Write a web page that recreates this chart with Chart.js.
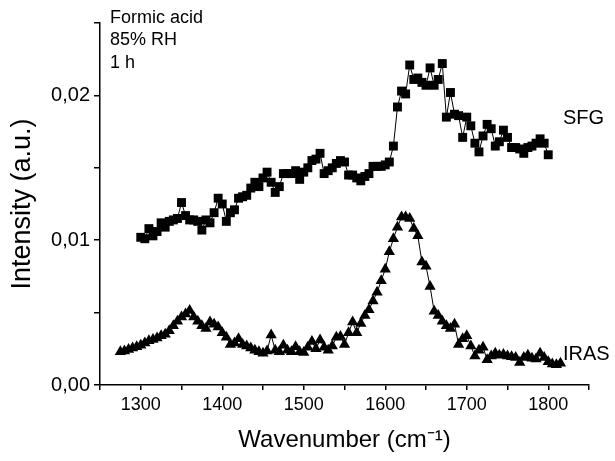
<!DOCTYPE html>
<html>
<head>
<meta charset="utf-8">
<script src="https://cdn.jsdelivr.net/npm/chart.js@4/dist/chart.umd.min.js"></script>
<style>
  body { margin: 0; background: #fff; }
  #wrap { width: 615px; height: 461px; }
</style>
</head>
<body>
<div id="wrap"><canvas id="specChart" width="615" height="461"></canvas></div>
<script>
// SFG spectrum (squares), intensity in units of 0.001
const sfgWavenumber = [1300,1305,1310,1315,1320,1325,1330,1335,1340,1345,1350,1355,1360,1365,1370,1375,1380,1385,1390,1395,
  1400,1405,1410,1415,1420,1425,1430,1435,1440,1445,1450,1455,1460,1465,1470,1475,1480,1485,1490,1495,
  1500,1505,1510,1515,1520,1525,1530,1535,1540,1545,1550,1555,1560,1565,1570,1575,1580,1585,1590,1595,
  1600,1605,1610,1615,1620,1625,1630,1635,1640,1645,1650,1655,1660,1665,1670,1675,1680,1685,1690,1695,
  1700,1705,1710,1715,1720,1725,1730,1735,1740,1745,1750,1755,1760,1765,1770,1775,1780,1785,1790,1795,1800];
const sfgIntensity = [10.2,10.1,10.8,10.3,10.6,11.2,10.9,11.3,11.4,11.5,12.6,11.7,11.4,11.4,11.3,10.7,11.4,11.2,11.9,12.9,
  12.5,11.3,11.9,12.1,12.9,13.0,13.1,13.6,14.0,13.7,14.3,14.7,14.0,13.3,13.7,14.6,14.6,14.6,14.8,14.2,
  14.7,15.0,15.5,15.6,16.0,14.6,14.8,15.0,15.3,15.5,15.4,14.5,14.5,14.3,14.1,14.4,14.6,15.1,15.1,15.1,
  15.2,15.4,16.5,19.2,20.3,20.1,22.1,21.1,21.2,20.9,20.7,21.9,20.7,21.1,22.2,18.5,20.2,18.7,18.6,17.1,
  18.5,17.9,16.7,16.1,17.2,18.0,17.7,16.5,16.8,17.6,17.1,16.4,16.4,16.3,16.0,16.4,16.5,16.7,17.0,16.7,15.9];

// IRAS spectrum (triangles), intensity in units of 0.001
const irasWavenumber = [1275,1280,1285,1290,1295,1300,1305,1310,1315,1320,1325,1330,1335,1340,1345,1350,1355,1360,1365,1370,
  1375,1380,1385,1390,1395,1400,1405,1410,1415,1420,1425,1430,1435,1440,1445,1450,1455,1460,1465,1470,
  1475,1480,1485,1490,1495,1500,1505,1510,1515,1520,1525,1530,1535,1540,1545,1550,1555,1560,1565,1570,
  1575,1580,1585,1590,1595,1600,1605,1610,1615,1620,1625,1630,1635,1640,1645,1650,1655,1660,1665,1670,
  1675,1680,1685,1690,1695,1700,1705,1710,1715,1720,1725,1730,1735,1740,1745,1750,1755,1760,1765,1770,
  1775,1780,1785,1790,1795,1800,1805,1810,1815];
const irasIntensity = [2.3,2.35,2.45,2.55,2.65,2.75,2.9,3.05,3.15,3.25,3.4,3.5,3.75,4.1,4.4,4.7,4.9,5.15,4.7,4.4,
  4.1,3.9,4.35,4.2,4.0,3.6,3.3,2.8,2.9,3.2,2.8,2.7,2.55,2.4,2.3,2.2,2.35,3.45,2.4,2.3,
  2.75,2.4,2.3,2.65,2.3,2.25,2.6,3.0,2.5,3.1,2.6,2.4,2.7,3.3,3.35,2.8,3.6,4.35,3.6,4.25,
  4.8,5.2,5.8,6.4,7.2,8.0,9.2,10.1,10.9,11.6,11.6,11.5,10.8,10.3,8.5,8.2,6.8,5.1,4.8,4.4,
  4.1,3.9,4.2,2.8,3.2,3.4,2.7,2.0,2.4,2.6,1.75,2.0,2.2,2.05,2.1,2.0,1.95,1.9,1.55,1.9,
  2.05,1.85,1.8,2.2,1.9,1.6,1.45,1.4,1.5];

const infoLines = ['Formic acid', '85% RH', '1 h'];
const seriesNames = ['SFG', 'IRAS'];

const FONT = '"Liberation Sans", Arial, sans-serif';

function toPoints(xs, ys) {
  return xs.map((x, i) => ({ x: x, y: ys[i] / 1000 }));
}

// text labels drawn on the plot
const notesPlugin = {
  id: 'notes',
  afterDraw(chart) {
    const { ctx, chartArea } = chart;
    ctx.save();
    ctx.fillStyle = '#000';
    ctx.textBaseline = 'middle';
    ctx.font = '18px ' + FONT;
    infoLines.forEach((t, i) => ctx.fillText(t, chartArea.left + 10, 18 + i * 22.5));
    ctx.font = '20px ' + FONT;
    ctx.fillText(seriesNames[0], chartArea.right - 26, 118);
    ctx.fillText(seriesNames[1], chartArea.right - 26, 354);
    ctx.restore();
  }
};

new Chart(document.getElementById('specChart'), {
  type: 'line',
  data: {
    datasets: [
      {
        label: seriesNames[0],
        data: toPoints(sfgWavenumber, sfgIntensity),
        borderColor: '#000',
        backgroundColor: '#000',
        borderWidth: 1,
        pointStyle: 'rect',
        pointRadius: 6.3,
        pointBorderWidth: 0,
        tension: 0
      },
      {
        label: seriesNames[1],
        data: toPoints(irasWavenumber, irasIntensity),
        borderColor: '#000',
        backgroundColor: '#000',
        borderWidth: 1,
        pointStyle: 'triangle',
        pointRadius: 6.5,
        pointBorderWidth: 0,
        tension: 0
      }
    ]
  },
  options: {
    responsive: false,
    animation: false,
    devicePixelRatio: 1,
    layout: { padding: { left: 0, right: 26, top: 23, bottom: 0 } },
    plugins: {
      legend: { display: false },
      tooltip: { enabled: false }
    },
    scales: {
      x: {
        type: 'linear',
        min: 1250,
        max: 1850,
        border: { display: true, color: '#000', width: 1.5 },
        grid: { drawOnChartArea: false, drawTicks: true, tickLength: 5, color: '#000', lineWidth: 1.5 },
        ticks: {
          stepSize: 50,
          color: '#000',
          padding: 4,
          maxRotation: 0,
          autoSkip: false,
          font: { family: FONT, size: 18 },
          callback: v => (v % 100 === 0 ? String(v) : '')
        },
        title: {
          display: true,
          text: 'Wavenumber (cm\u207B\u00B9)',
          color: '#000',
          font: { family: FONT, size: 24 },
          padding: { top: 6, bottom: 6 }
        },
        afterFit: s => { s.height = 76; }
      },
      y: {
        min: 0,
        max: 0.025,
        border: { display: true, color: '#000', width: 1.5 },
        grid: { drawOnChartArea: false, drawTicks: true, tickLength: 6, color: '#000', lineWidth: 1.5 },
        ticks: {
          stepSize: 0.005,
          includeBounds: false,
          color: '#000',
          padding: 4,
          autoSkip: false,
          font: { family: FONT, size: 20 },
          callback: v => {
            const k = Math.round(v * 1000);
            return k % 10 === 0 ? (k / 1000).toFixed(2).replace('.', ',') : '';
          }
        },
        title: {
          display: true,
          text: 'Intensity (a.u.)',
          color: '#000',
          font: { family: FONT, size: 27 },
          padding: { top: 6, bottom: 4 }
        },
        afterFit: s => { s.width = 100; }
      }
    }
  },
  plugins: [notesPlugin]
});
</script>
</body>
</html>
